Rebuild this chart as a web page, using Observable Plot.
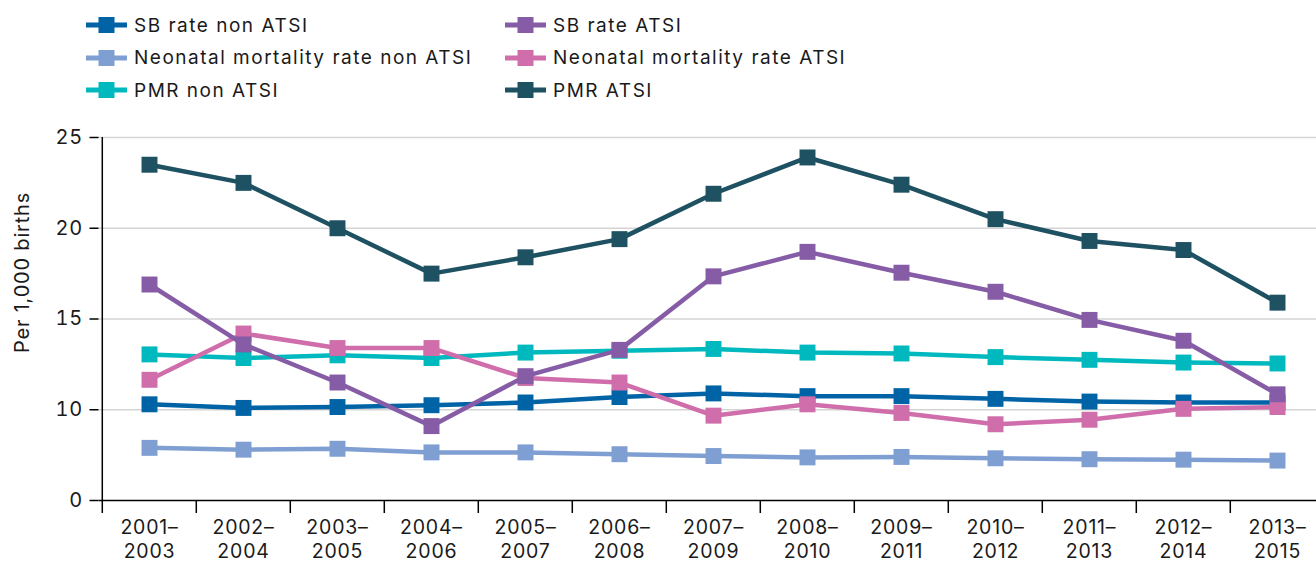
<!DOCTYPE html>
<html>
<head>
<meta charset="utf-8">
<script src="https://cdn.jsdelivr.net/npm/d3@7"></script>
<script src="https://cdn.jsdelivr.net/npm/@observablehq/plot@0.6"></script>
<style>
  body { margin: 0; background: #fff; font-family: Inter, "Open Sans", sans-serif; color: #1a1a1a; }
  #legend { position: relative; height: 110px; width: 1316px; }
  .item { position: absolute; display: flex; align-items: center; height: 32px; font-size: 19px; letter-spacing: 1.5px; white-space: nowrap; }
  .item svg { margin-right: 7px; flex: none; }
  #chart svg { display: block; }
</style>
</head>
<body>
<div id="legend"></div>
<div id="chart"></div>
<script>
// ---- data ----
const periods = ["2001–2003", "2002–2004", "2003–2005", "2004–2006", "2005–2007", "2006–2008", "2007–2009",
                 "2008–2010", "2009–2011", "2010–2012", "2011–2013", "2012–2014", "2013–2015"];
const seriesNames = ["SB rate non ATSI", "SB rate ATSI", "Neonatal mortality rate non ATSI",
                     "Neonatal mortality rate ATSI", "PMR non ATSI", "PMR ATSI"];
const sbNonAtsi       = [10.3, 10.1, 10.15, 10.25, 10.4, 10.7, 10.9, 10.75, 10.75, 10.6, 10.45, 10.4, 10.4];
const sbAtsi          = [16.9, 13.6, 11.5, 8.2, 11.85, 13.3, 17.35, 18.7, 17.55, 16.5, 14.95, 13.8, 10.85];
const neonatalNonAtsi = [5.8, 5.6, 5.7, 5.3, 5.3, 5.1, 4.9, 4.75, 4.8, 4.65, 4.55, 4.5, 4.4];
const neonatalAtsi    = [11.65, 14.2, 13.4, 13.4, 11.75, 11.5, 9.35, 10.3, 9.65, 8.4, 8.9, 10.05, 10.15];
const pmrNonAtsi      = [13.05, 12.85, 13.0, 12.85, 13.15, 13.25, 13.35, 13.15, 13.1, 12.9, 12.75, 12.6, 12.55];
const pmrAtsi         = [23.5, 22.5, 20.0, 17.5, 18.4, 19.4, 21.9, 23.9, 22.4, 20.5, 19.3, 18.8, 15.9];
const yTicks = [0, 10, 15, 20, 25];
const yTitle = "Per 1,000 births";

// ---- styles ----
const seriesColors = ["#0063a6", "#855ca5", "#7f9fd3", "#cf6eaa", "#00b9bf", "#1e5161"];
const seriesValues = [sbNonAtsi, sbAtsi, neonatalNonAtsi, neonatalAtsi, pmrNonAtsi, pmrAtsi];
const drawOrder = [0, 2, 4, 3, 1, 5];

const W = 1316, H = 455;
const mTop = 27, mBottom = 65, mLeft = 98.5, mRight = 0;
const insetL = 47.5, insetR = 37;
const plotH = H - mTop - mBottom;
const step = (W - mLeft - mRight - insetL - insetR) / (periods.length - 1);
const yRange = yTicks.map((_, i) => (H - mBottom) - i * plotH / (yTicks.length - 1));

// ---- legend ----
const legend = document.getElementById("legend");
seriesNames.forEach((name, i) => {
  const col = i % 2, row = Math.floor(i / 2);
  const div = document.createElement("div");
  div.className = "item";
  div.style.left = [86, 505][col] + "px";
  div.style.top = (25 + row * 32.5 - 16) + "px";
  div.innerHTML = `<svg width="41" height="16"><line x1="0" x2="41" y1="8" y2="8" stroke="${seriesColors[i]}" stroke-width="5"/>` +
    `<rect x="12.5" y="0" width="16" height="16" fill="${seriesColors[i]}"/></svg><span>${name}</span>`;
  legend.appendChild(div);
});

// ---- table ----
const rows = seriesNames.flatMap((s, i) => periods.map((p, j) => ({period: p, series: s, value: seriesValues[i][j]})));

const seriesMarks = drawOrder.flatMap(i => {
  const d = rows.filter(r => r.series === seriesNames[i]);
  return [
    Plot.line(d, {x: "period", y: "value", stroke: "series", strokeWidth: 4.5}),
    Plot.dot(d, {x: "period", y: "value", fill: "series", symbol: "square", r: 9, stroke: "none"})
  ];
});

const chart = Plot.plot({
  width: W, height: H,
  marginTop: mTop, marginBottom: mBottom, marginLeft: mLeft, marginRight: mRight,
  style: {fontFamily: "Inter, 'Open Sans', sans-serif", color: "#1a1a1a", background: "#fff", letterSpacing: "0.8px"},
  x: {type: "point", domain: periods, padding: 0, insetLeft: insetL, insetRight: insetR},
  y: {type: "linear", domain: yTicks, range: yRange},
  color: {domain: seriesNames, range: seriesColors},
  marks: [
    Plot.gridY(yTicks.slice(1), {stroke: "#d4d4d4", strokeOpacity: 1, strokeWidth: 1.5}),
    Plot.axisY(yTicks, {tickSize: 9, tickPadding: 7, fontSize: 20, stroke: "#000", strokeWidth: 1.5, tickFormat: d => String(d), label: null}),
    Plot.ruleY([0], {stroke: "#000", strokeWidth: 1.5}),
    Plot.tickX([periods[0]], {x: d => d, dx: -step / 2, insetBottom: -13, stroke: "#000", strokeWidth: 1.5}),
    Plot.tickX(periods.slice(1), {x: d => d, dx: -step / 2, insetTop: plotH, insetBottom: -13, stroke: "#000", strokeWidth: 1.5}),
    Plot.axisX({tickSize: 0, tickPadding: 17, fontSize: 19.5, lineHeight: 1.2, tickFormat: d => d.replace("–", "–\n"), label: null}),
    ...seriesMarks,
    Plot.text([yTitle], {frameAnchor: "left", textAnchor: "middle", rotate: -90, dx: 22 - mLeft, dy: -46.5, fontSize: 20, fill: "#1a1a1a"})
  ]
});
document.getElementById("chart").appendChild(chart);
</script>
</body>
</html>
